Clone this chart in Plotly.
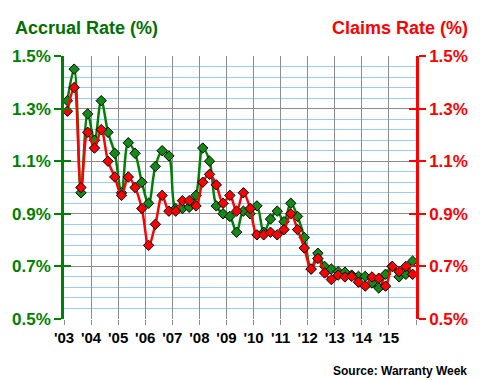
import plotly.graph_objects as go

year_labels = ["'03", "'04", "'05", "'06", "'07", "'08", "'09", "'10", "'11", "'12", "'13", "'14", "'15"]
first_year = 2003

accrual_rate = [1.33, 1.45, 0.98, 1.28, 1.18, 1.33, 1.21, 1.13,
                0.98, 1.17, 1.13, 1.02, 0.94, 1.08, 1.14, 1.12,
                0.92, 0.92, 0.925, 0.97, 1.15, 1.10, 0.93, 0.90,
                0.89, 0.83, 0.91, 0.90, 0.93, 0.83, 0.88, 0.91,
                0.87, 0.94, 0.89, 0.81, 0.69, 0.75, 0.70, 0.69,
                0.68, 0.678, 0.667, 0.662, 0.662, 0.637, 0.618, 0.67,
                0.70, 0.66, 0.67, 0.72]

claims_rate = [1.29, 1.38, 1.00, 1.21, 1.15, 1.22, 1.10, 1.04,
               0.97, 1.04, 1.00, 0.92, 0.78, 0.86, 0.97, 0.91,
               0.91, 0.95, 0.95, 0.93, 1.02, 1.05, 1.01, 0.94,
               0.97, 0.91, 0.98, 0.92, 0.82, 0.82, 0.83, 0.82,
               0.84, 0.90, 0.84, 0.77, 0.69, 0.73, 0.675, 0.65,
               0.667, 0.66, 0.662, 0.64, 0.625, 0.66, 0.655, 0.625,
               0.70, 0.68, 0.70, 0.67]

# quarter positions (centre of each quarter)
quarter_x = [first_year + (i + 0.5) / 4 for i in range(len(accrual_rate))]
year_ticks = [first_year + k for k in range(len(year_labels) + 1)]
year_text = year_labels + [""]

GREEN = "#008000"
RED = "#ff0000"
FONT = "Liberation Sans, Arial, sans-serif"

fig = go.Figure()
fig.add_trace(go.Scatter(
    x=quarter_x, y=claims_rate, yaxis="y2", mode="lines+markers",
    line=dict(color=RED, width=2.5, shape="spline", smoothing=1),
    marker=dict(symbol="diamond", size=8, color=RED, line=dict(color="black", width=1)),
    showlegend=False, hoverinfo="skip"))
fig.add_trace(go.Scatter(
    x=quarter_x, y=accrual_rate, yaxis="y", mode="lines+markers",
    line=dict(color=GREEN, width=2.5, shape="spline", smoothing=1),
    marker=dict(symbol="diamond", size=8, color="#138a13", line=dict(color="black", width=1)),
    showlegend=False, hoverinfo="skip"))

yrange = [0.5, 1.5]
common_y = dict(range=yrange, tick0=0.5, dtick=0.2, zeroline=False, fixedrange=True)

fig.update_layout(
    width=480, height=380,
    margin=dict(l=60, r=63, t=56, b=61),
    paper_bgcolor="white", plot_bgcolor="white",
    font=dict(family=FONT),
    xaxis=dict(range=[first_year, first_year + len(year_labels)], tickvals=year_ticks, ticktext=year_text,
               showgrid=True, gridcolor="#8c8c8c", gridwidth=1, zeroline=False, showline=False,
               ticks="outside", ticklen=5, tickcolor="#8c8c8c", tickwidth=1,
               tickfont=dict(family=FONT, size=15, color="black", weight="bold")),
    yaxis=dict(**common_y, side="left", tickformat=".1f", ticksuffix="%",
               showgrid=True, gridcolor="#8c8c8c", gridwidth=1,
               minor=dict(dtick=0.04, tick0=0.5, showgrid=True, gridcolor="#99ccff", gridwidth=1),
               showline=True, linecolor=GREEN, linewidth=2.5,
               ticks="outside", ticklen=7, tickwidth=2, tickcolor=GREEN,
               tickfont=dict(family=FONT, size=17, color=GREEN, weight="bold")),
    yaxis3=dict(**common_y, overlaying="y", side="left", anchor="x", showgrid=False,
                showticklabels=False, ticks="inside", ticklen=7, tickwidth=2, tickcolor=GREEN),
    yaxis2=dict(**common_y, overlaying="y", side="right", anchor="x", showgrid=False,
                tickformat=".1f", ticksuffix="%",
                showline=True, linecolor=RED, linewidth=2.5,
                ticks="outside", ticklen=7, tickwidth=2, tickcolor=RED,
                tickfont=dict(family=FONT, size=17, color=RED, weight="bold")),
    yaxis4=dict(**common_y, overlaying="y", side="right", anchor="x", showgrid=False,
                showticklabels=False, ticks="inside", ticklen=7, tickwidth=2, tickcolor=RED),
    annotations=[
        dict(text="Accrual Rate (%)", xref="paper", yref="paper", x=-0.146, y=1.106,
             xanchor="left", yanchor="middle", showarrow=False,
             font=dict(family=FONT, size=18, color="#007000", weight="bold")),
        dict(text="Claims Rate (%)", xref="paper", yref="paper", x=1.154, y=1.106,
             xanchor="right", yanchor="middle", showarrow=False,
             font=dict(family=FONT, size=18, color=RED, weight="bold")),
        dict(text="Source: Warranty Week", xref="paper", yref="paper", x=1.151, y=-0.197,
             xanchor="right", yanchor="middle", showarrow=False,
             font=dict(family=FONT, size=12, color="black", weight="bold")),
    ],
)
# dummy traces so overlay axes 3 and 4 are drawn
fig.add_trace(go.Scatter(x=[None], y=[None], yaxis="y3", showlegend=False, hoverinfo="skip"))
fig.add_trace(go.Scatter(x=[None], y=[None], yaxis="y4", showlegend=False, hoverinfo="skip"))

fig.write_html("out.html", config={"displayModeBar": False},
               post_script="document.body.style.margin='0';document.body.style.overflow='hidden';")
